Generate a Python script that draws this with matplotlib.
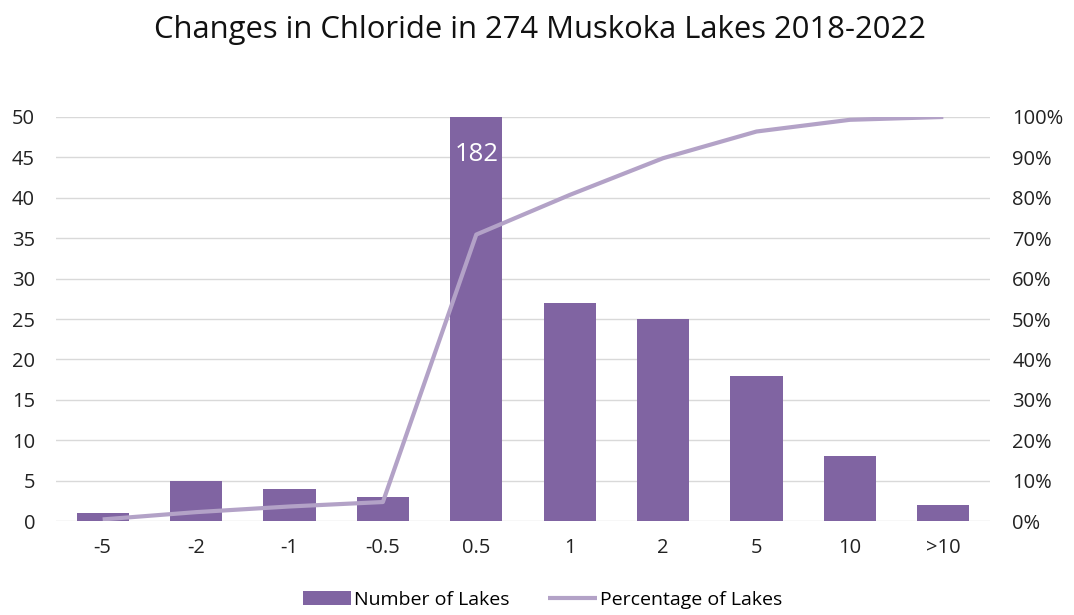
import matplotlib
matplotlib.use("Agg")
import matplotlib.pyplot as plt
import numpy as np

categories = ["-5", "-2", "-1", "-0.5", "0.5", "1", "2", "5", "10", ">10"]
num_lakes = [1, 5, 4, 3, 182, 27, 25, 18, 8, 2]
pct_lakes = [0.4, 2.2, 3.6, 4.7, 70.9, 80.7, 89.8, 96.4, 99.3, 100.0]

plt.rcParams['font.family'] = ['Open Sans', 'DejaVu Sans']

fig = plt.figure(figsize=(10.74, 6.15), dpi=100)
ax = fig.add_axes([0.0521, 0.1528, 0.8697, 0.657])
x = np.arange(len(categories))
bars = ax.bar(x, num_lakes, width=0.56, color="#8064A2", zorder=2, label="Number of Lakes")
ax.set_ylim(0, 50)
ax.set_xlim(-0.5, len(categories) - 0.5)
ax.set_yticks(np.arange(0, 51, 5))
ax.set_xticks(x)
ax.set_xticklabels(categories)
ax.grid(axis='y', color="#D9D9D9", linewidth=1, zorder=0)
ax.set_axisbelow(True)
for s in ax.spines.values():
    s.set_visible(False)
ax.tick_params(axis='both', length=0, labelsize=14.5, colors="#222222")
ax.tick_params(axis='y', pad=15)
ax.tick_params(axis='x', pad=12)

# label for clipped bar
imax = int(np.argmax(num_lakes))
ax.text(x[imax], 45.3, str(num_lakes[imax]), color="white", ha="center", va="center",
        fontsize=18.5, zorder=5)

ax2 = ax.twinx()
line, = ax2.plot(x, pct_lakes, color="#B3A2C7", linewidth=3, solid_capstyle='butt',
                 label="Percentage of Lakes", zorder=3)
ax2.set_ylim(0, 100)
ax2.set_yticks(np.arange(0, 101, 10))
ax2.set_yticklabels([f"{v}%" for v in range(0, 101, 10)])
for s in ax2.spines.values():
    s.set_visible(False)
ax2.tick_params(axis='y', length=0, labelsize=14.5, colors="#222222", pad=16)

fig.suptitle("Changes in Chloride in 274 Muskoka Lakes 2018-2022", x=0.503, y=0.975,
             fontsize=22.3, color="#111111")

fig.legend(handles=[bars, line], loc="lower center", bbox_to_anchor=(0.505, -0.018),
           ncol=2, frameon=False, fontsize=14, handlelength=2.5, handletextpad=0.15,
           columnspacing=2.0)

fig.savefig("out.png", dpi=100)
